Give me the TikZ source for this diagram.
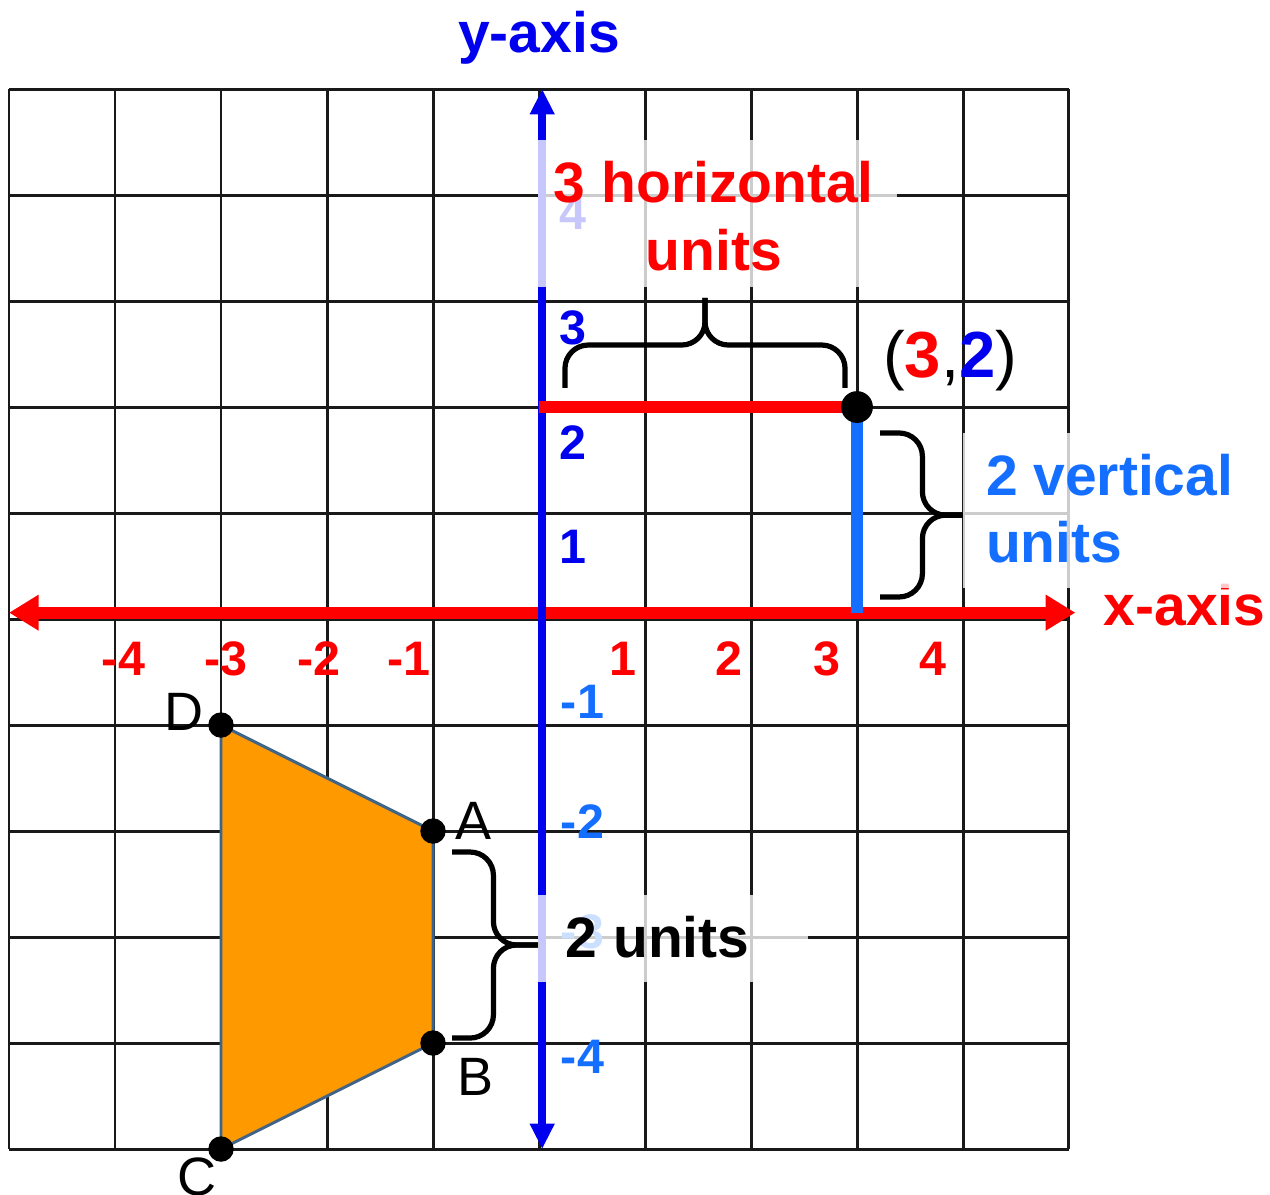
\documentclass[tikz,border=0pt]{standalone}
\usepackage{fontspec}
\setmainfont{Liberation Sans}
\usetikzlibrary{arrows.meta}
\definecolor{axred}{RGB}{255,0,0}
\definecolor{axblue}{RGB}{0,0,238}
\definecolor{ltblue}{RGB}{20,110,255}
\definecolor{trapfill}{RGB}{255,153,0}
\definecolor{trapedge}{RGB}{60,100,140}

\begin{document}
\begin{tikzpicture}[x=1cm,y=1cm,
   tick/.style={font=\fontsize{13}{15}\selectfont\bfseries,anchor=base},
   big/.style={font=\fontsize{15.3}{18}\selectfont\bfseries},
   corner/.style={font=\fontsize{14.5}{17}\selectfont},
   dot/.style={circle,fill=black,inner sep=0pt,minimum size=#1},
   brc/.style={line width=1.4pt,rounded corners=0.22cm},
   veil/.style={fill=white,fill opacity=0.78}]
\useasboundingbox (-5.085,-5.425) rectangle (6.896,5.84);
\draw[line width=0.8pt,black!90] (-5,-5) grid (5,5);
% axes
\coordinate (xl) at (-5.0,0.06); \coordinate (xr) at (5.06,0.06);
\coordinate (yt) at (0.03,5.0); \coordinate (yb) at (0.03,-5.0);
\draw[axred,line width=3.2pt,{Triangle[length=0.28cm,width=0.32cm]}-{Triangle[length=0.28cm,width=0.32cm]}] (xl) -- (xr);
\draw[axblue,line width=2.2pt,{Triangle[length=0.24cm,width=0.22cm]}-{Triangle[length=0.24cm,width=0.22cm]}] (yb) -- (yt);
\node[big,axblue,anchor=base] (ylab) at (0,5.34) {y-axis};
\node[big,axred,anchor=base] (xlab) at (6.09,-0.06) {x-axis};
\foreach \x/\l in {-3.92/-4,-2.95/-3,-2.08/-2,-1.23/-1,0.79/1,1.79/2,2.72/3,3.72/4} {
   \node[tick,axred] at (\x,-0.53) {\l};
}
\foreach \y/\l in {3.83/4,2.75/3,1.66/2,0.68/1} {
   \node[tick,axblue,anchor=center] at (0.32,\y) {\l};
}
\foreach \y/\l in {-0.78/-1,-1.915/-2,-2.95/-3,-4.13/-4} {
   \node[tick,ltblue,anchor=center] at (0.41,\y) {\l};
}
% trapezoid
\coordinate (D) at (-3,-1); \coordinate (A) at (-1,-2);
\coordinate (B) at (-1,-4); \coordinate (C) at (-3,-5);
\draw[fill=trapfill,draw=trapedge,line width=0.8pt] (D) -- (A) -- (B) -- (C) -- cycle;
\foreach \p in {A,B,C,D} {
   \node[dot=0.24cm] (d\p) at (\p) {};
}
\node[corner] (lD) at (-3.35,-0.88) {D};
\node[corner] (lA) at (-0.62,-1.9) {A};
\node[corner] (lB) at (-0.6,-4.32) {B};
\node[corner] (lC) at (-3.23,-5.26) {C};
% the point (3,2)
\coordinate (O2) at (0,2); \coordinate (P0) at (3,0.06);
\draw[axred,line width=3.2pt] (O2) -- (3,2);
\draw[ltblue,line width=3.4pt] (3,2) -- (P0);
\node[dot=0.30cm] (P) at (3,2) {};
\node[font=\fontsize{17.5}{20}\selectfont] (Plab) at (3.88,2.44)
   {(\textbf{\color{axred}3},\textbf{\color{axblue}2})};
% braces
\coordinate (h1) at (0.245,2.18); \coordinate (h2) at (2.887,2.18);
\coordinate (hb) at (1.566,2.585); \coordinate (hm) at (1.566,3.03);
\draw[brc] (h1) |- (hb) -- (hm);
\draw[brc] (h2) |- (hb) -- (hm);
\coordinate (v1) at (3.217,1.755); \coordinate (v2) at (3.217,0.208);
\coordinate (vb) at (3.617,0.98); \coordinate (vm) at (3.997,0.98);
\draw[brc] (v1) -| (vb) -- (vm);
\draw[brc] (v2) -| (vb) -- (vm);
\coordinate (u1) at (-0.82,-2.198); \coordinate (u2) at (-0.82,-3.953);
\coordinate (ub) at (-0.43,-3.075); \coordinate (um) at (0.0,-3.075);
\draw[brc] (u1) -| (ub) -- (um);
\draw[brc] (u2) -| (ub) -- (um);
% labels on veils
\fill[veil] (-0.01,3.13) rectangle (3.38,4.52);
\fill[veil] (4.0,0.29) rectangle (6.61,1.755);
\fill[veil] (-0.01,-3.42) rectangle (2.54,-2.6);
\node[big,axred,anchor=base] (hz1) at (1.65,3.925) {3 horizontal};
\node[big,axred,anchor=base] (hz2) at (1.65,3.29) {units};
\node[big,ltblue,anchor=base west,inner sep=0pt] (vt1) at (4.21,1.168) {2 vertical};
\node[big,ltblue,anchor=base west,inner sep=0pt] (vt2) at (4.21,0.538) {units};
\node[big,anchor=base west,inner sep=0pt] (un) at (0.245,-3.19) {2 units};
\end{tikzpicture}
\end{document}
